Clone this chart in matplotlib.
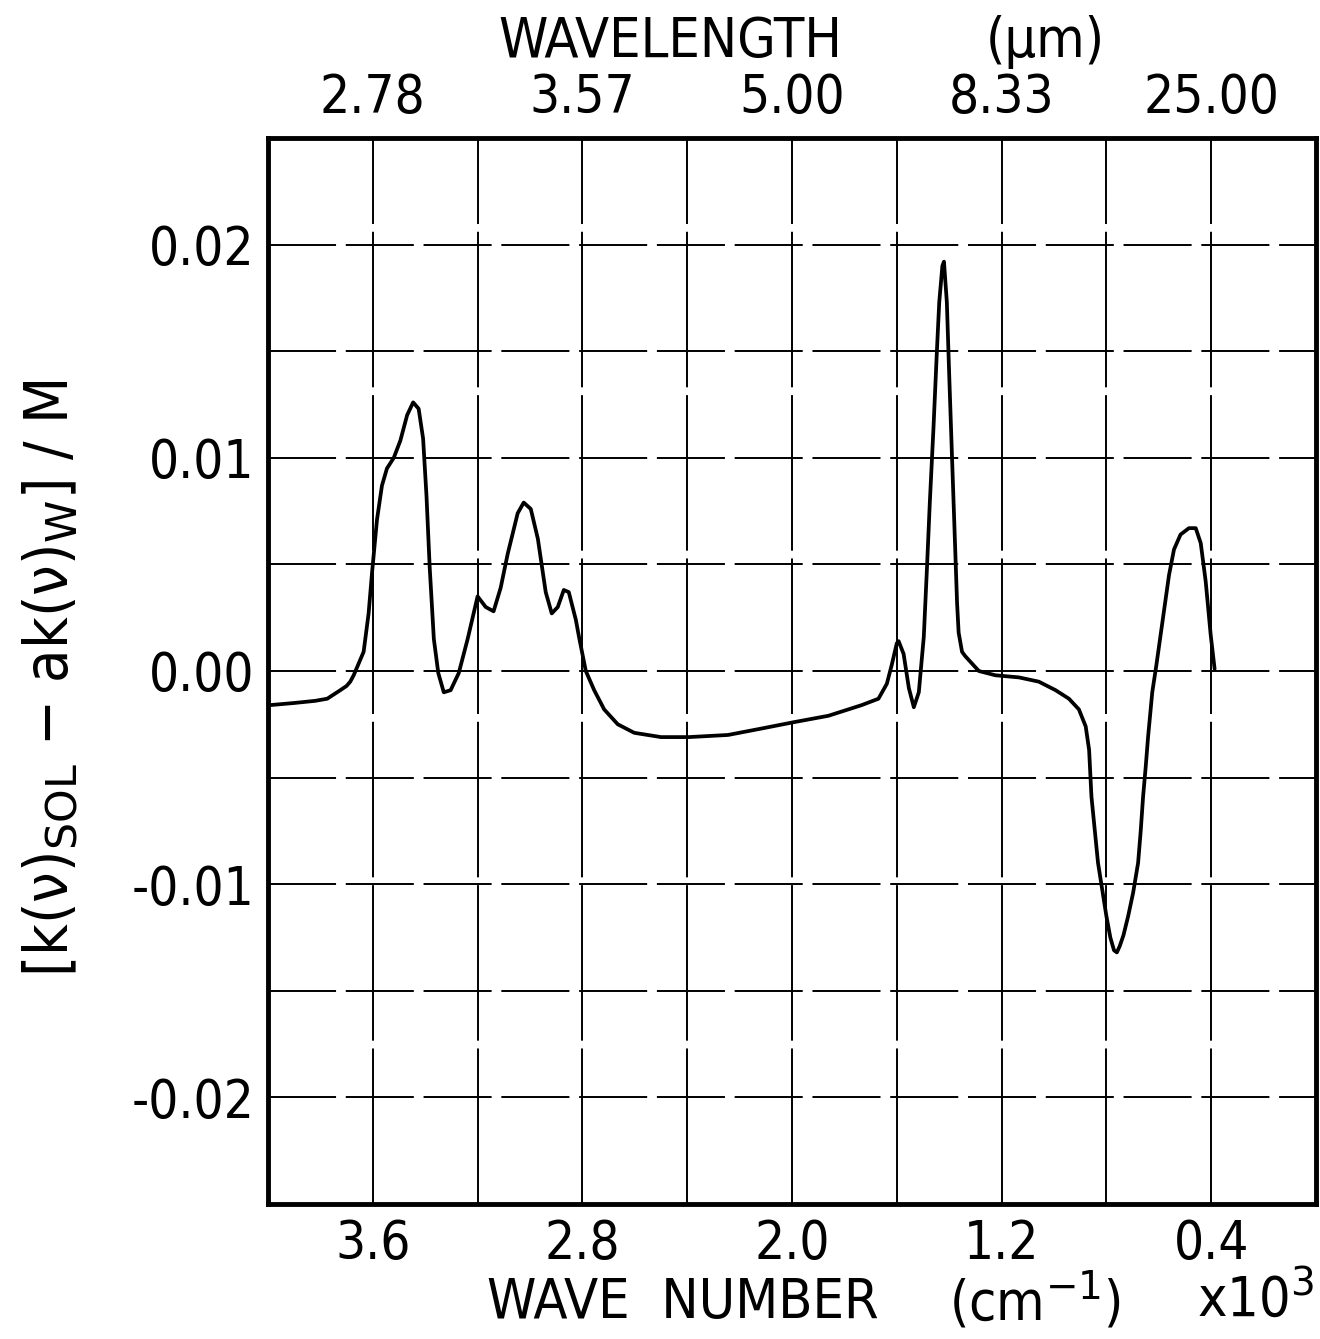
import numpy as np
import matplotlib
matplotlib.use("Agg")
import matplotlib.pyplot as plt

# wave number (x10^3 cm^-1) and [k(v)_SOL - a k(v)_W]/M
wave_number = [3.992, 3.90, 3.82, 3.774, 3.724, 3.700, 3.686, 3.673, 3.635, 3.616, 3.603, 3.584, 3.565,
               3.546, 3.520, 3.495, 3.469, 3.446, 3.425, 3.408, 3.395, 3.383, 3.367,
               3.350, 3.329, 3.303, 3.272, 3.238, 3.200, 3.169, 3.139, 3.112, 3.085,
               3.047, 3.024, 2.997, 2.970, 2.940, 2.917, 2.894, 2.871, 2.852, 2.825,
               2.813, 2.787, 2.755, 2.717, 2.665, 2.602, 2.50, 2.394, 2.244, 2.117,
               1.993, 1.861, 1.734, 1.670, 1.638, 1.619, 1.600, 1.593, 1.574, 1.554,
               1.535, 1.516, 1.497, 1.485, 1.474, 1.460, 1.447, 1.438, 1.426, 1.420,
               1.409, 1.400, 1.390, 1.379, 1.370, 1.364, 1.351, 1.339, 1.287, 1.224,
               1.134, 1.058, 0.994, 0.943, 0.905, 0.879, 0.866, 0.857, 0.832, 0.800,
               0.785, 0.771, 0.760, 0.749, 0.735, 0.717, 0.698, 0.679, 0.669, 0.660,
               0.650, 0.641, 0.625, 0.609, 0.593, 0.561, 0.542, 0.517, 0.485, 0.459,
               0.440, 0.421, 0.402, 0.387]
k_diff = [-0.0016, -0.0015, -0.0014, -0.0013, -0.0009, -0.0007, -0.0005, -0.0002, 0.0009, 0.0027, 0.0046, 0.0071, 0.0087,
          0.0095, 0.0100, 0.0108, 0.0120, 0.0126, 0.0123, 0.0109, 0.0082, 0.0049, 0.0015,
          -0.0001, -0.0010, -0.0009, -0.0001, 0.0015, 0.0035, 0.0030, 0.0028, 0.0039, 0.0055,
          0.0074, 0.0079, 0.0076, 0.0062, 0.0037, 0.0027, 0.0030, 0.0038, 0.0037, 0.0024,
          0.0016, 0.0000, -0.0009, -0.0018, -0.0025, -0.0029, -0.0031, -0.0031, -0.0030, -0.0027,
          -0.0024, -0.0021, -0.0016, -0.0013, -0.0006, 0.0003, 0.0013, 0.0014, 0.0008, -0.0008,
          -0.0017, -0.0010, 0.0016, 0.0048, 0.0079, 0.0114, 0.0150, 0.0173, 0.0190, 0.0192,
          0.0173, 0.0139, 0.0103, 0.0064, 0.0032, 0.0018, 0.0009, 0.0007, 0.0000, -0.0002,
          -0.0003, -0.0005, -0.0009, -0.0013, -0.0018, -0.0026, -0.0037, -0.0059, -0.0090, -0.0115,
          -0.0125, -0.0131, -0.0132, -0.0129, -0.0124, -0.0115, -0.0104, -0.0090, -0.0075, -0.0059,
          -0.0045, -0.0031, -0.0010, 0.0003, 0.0017, 0.0045, 0.0057, 0.0064, 0.0067, 0.0067,
          0.0060, 0.0042, 0.0017, 0.0001]

x_ticks = [3.6, 2.8, 2.0, 1.2, 0.4]
x_tick_labels = ["3.6", "2.8", "2.0", "1.2", "0.4"]
wavelength_labels = ["2.78", "3.57", "5.00", "8.33", "25.00"]
y_ticks = [0.02, 0.01, 0.0, -0.01, -0.02]
y_tick_labels = ["0.02", "0.01", "0.00", "-0.01", "-0.02"]

plt.rcParams['font.family'] = ['DejaVu Sans']
plt.rcParams['mathtext.fontset'] = 'dejavusans'
W, H = 1320, 1339
fig = plt.figure(figsize=(W / 100, H / 100), dpi=100)
ax = fig.add_axes([268 / W, 1 - 1204 / H, (1316 - 268) / W, (1204 - 138) / H])

ax.plot(wave_number, k_diff, color='black', lw=2.7, solid_joinstyle='round',
        solid_capstyle='round', zorder=5)

ax.set_xlim(4.0, 0.0)
ax.set_ylim(-0.025, 0.025)

# dashed grid
for gx in np.arange(0.4, 4.0, 0.4):
    ax.axvline(gx, color='black', lw=1.4, dashes=(80, 4))
for gy in np.arange(-0.02, 0.0201, 0.005):
    ax.axhline(gy, color='black', lw=1.4, dashes=(35, 5))

for s in ax.spines.values():
    s.set_linewidth(3.5)

tfont = dict(fontsize=38, fontweight='light', fontstretch='condensed')
ax.set_xticks(x_ticks)
ax.set_xticklabels(x_tick_labels, **tfont)
ax.set_yticks(y_ticks)
ax.set_yticklabels(y_tick_labels, **tfont)
ax.tick_params(length=0, pad=10)

top = ax.secondary_xaxis('top')
top.set_xticks(x_ticks)
top.set_xticklabels(wavelength_labels, **tfont)
top.tick_params(length=0, pad=10)
top.spines['top'].set_visible(False)

def px(x, y):
    return x / W, 1 - y / H

lfont = dict(fontsize=40, fontweight='light', fontstretch='condensed', ha='center', va='center')
fig.text(*px(670, 42), "WAVELENGTH", **lfont)
fig.text(*px(1045, 42), "(\u03bcm)", **lfont)
fig.text(*px(683, 1303), "WAVE  NUMBER", **lfont)
fig.text(*px(1035, 1300), r"(cm$^{-1}$)", **lfont)
fig.text(*px(1256, 1300), r"x10$^{3}$", **lfont)
yl = dict(lfont, fontsize=44)
fig.text(*px(52, 678),
         "[k(\u03bd)$_{\\mathrm{SOL}}$ \u2212 ak(\u03bd)$_{\\mathrm{W}}$] / M",
         rotation=90, **yl)

fig.savefig("out.png", dpi=100)
